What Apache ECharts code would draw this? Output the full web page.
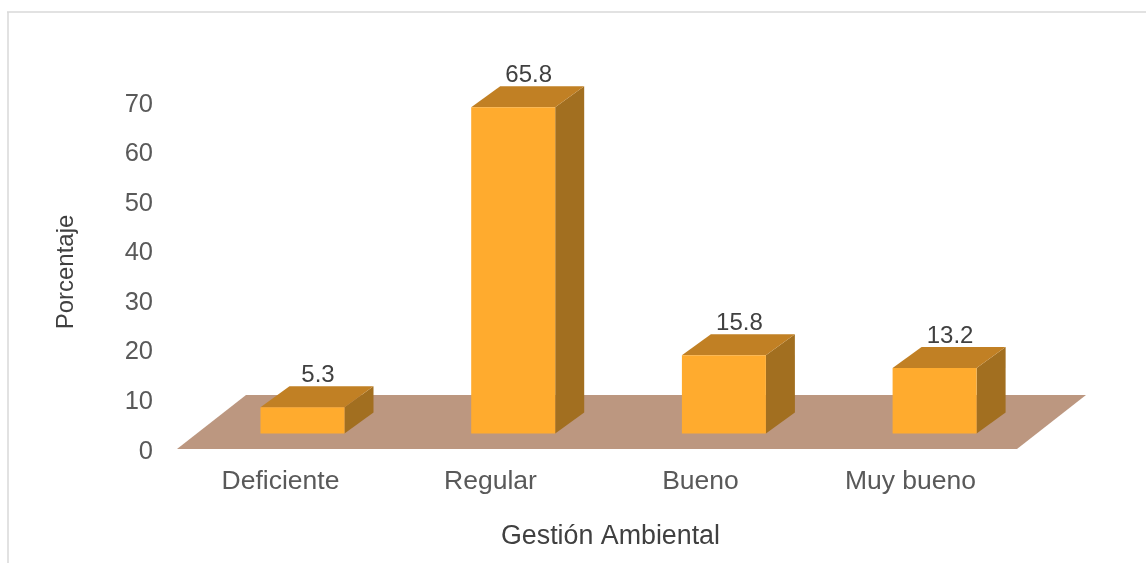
<!DOCTYPE html>
<html>
<head>
<meta charset="utf-8">
<style>html,body{margin:0;padding:0;background:#fff}#c{width:1146px;height:563px}</style>
<script src="https://cdn.jsdelivr.net/npm/echarts@6/dist/echarts.min.js"></script>
</head>
<body>
<div id="c"></div>
<script>
var categories = ['Deficiente', 'Regular', 'Bueno', 'Muy bueno'];
var porcentaje = [5.3, 65.8, 15.8, 13.2];
var yTicks = [0, 10, 20, 30, 40, 50, 60, 70];

var FONT = '"Liberation Sans", Arial, sans-serif';
var FRONT = '#FFAB2E', TOP = '#C18024', SIDE = '#A26F20', FLOOR = '#BC9780';
var DEPTH_X = 29, DEPTH_Y = 21, SHIFT_X = 20.5, SHIFT_Y = 15.5, SPREAD = 0.7, FLOOR_X = 69, FLOOR_Y = 54;

function renderBar(params, api) {
  var p = api.coord([api.value(0), api.value(1)]);
  var b = api.coord([api.value(0), 0]);
  var w = api.size([1, 0])[0] * 0.4;
  var x0 = p[0] - w / 2 + SHIFT_X + api.value(0) * SPREAD, x1 = x0 + w;
  var yt = p[1] - SHIFT_Y, yb = b[1] - SHIFT_Y;
  return {
    type: 'group',
    children: [
      { type: 'polygon', shape: { points: [[x1, yt], [x1 + DEPTH_X, yt - DEPTH_Y], [x1 + DEPTH_X, yb - DEPTH_Y], [x1, yb]] }, style: { fill: SIDE } },
      { type: 'polygon', shape: { points: [[x0, yt], [x0 + DEPTH_X, yt - DEPTH_Y], [x1 + DEPTH_X, yt - DEPTH_Y], [x1, yt]] }, style: { fill: TOP } },
      { type: 'rect', shape: { x: x0, y: yt, width: w, height: yb - yt }, style: { fill: FRONT } },
      { type: 'text', x: (x0 + x1 + DEPTH_X) / 2 + 1, y: yt - DEPTH_Y + 1.5,
        style: { text: String(api.value(1)), fill: '#404040', font: '24px ' + FONT, align: 'center', verticalAlign: 'bottom' } }
    ]
  };
}

function renderFloor(params, api) {
  var c = params.coordSys;
  var yf = c.y + c.height;
  return {
    type: 'polygon',
    shape: { points: [[c.x, yf], [c.x + c.width, yf], [c.x + c.width + FLOOR_X, yf - FLOOR_Y], [c.x + FLOOR_X, yf - FLOOR_Y]] },
    style: { fill: FLOOR }
  };
}

var chart = echarts.init(document.getElementById('c'), null, { renderer: 'canvas' });
chart.setOption({
  animation: false,
  backgroundColor: '#fff',
  graphic: [
    { type: 'line', silent: true, shape: { x1: 8, y1: 12, x2: 8, y2: 563 }, style: { stroke: '#D9D9D9', lineWidth: 1.5 } },
    { type: 'line', silent: true, shape: { x1: 7, y1: 12, x2: 1146, y2: 12 }, style: { stroke: '#D9D9D9', lineWidth: 1.5 } }
  ],
  grid: { left: 177, top: 102, width: 840, height: 347, outerBoundsMode: 'none' },
  xAxis: {
    type: 'category',
    data: categories,
    axisLine: { show: false },
    axisTick: { show: false },
    axisLabel: { color: '#595959', fontFamily: FONT, fontSize: 26.5, margin: 19, padding: [0, 3, 0, 0] },
    name: 'Gestión Ambiental',
    nameLocation: 'middle',
    nameGap: 74,
    nameTextStyle: { color: '#404040', fontFamily: FONT, fontSize: 26.8, padding: [0, 0, 0, 27] }
  },
  yAxis: {
    type: 'value',
    min: 0,
    max: yTicks[yTicks.length - 1],
    interval: yTicks[1] - yTicks[0],
    splitLine: { show: false },
    axisLine: { show: false },
    axisTick: { show: false },
    axisLabel: {
      margin: 24,
      formatter: '{v|{value}}',
      rich: { v: { color: '#595959', fontFamily: FONT, fontSize: 25.5, padding: [5, 0, 0, 0] } }
    },
    name: 'Porcentaje',
    nameLocation: 'middle',
    nameGap: 99,
    nameTextStyle: { color: '#404040', fontFamily: FONT, fontSize: 24, padding: [0, 0, 0, 7] }
  },
  series: [
    { type: 'custom', silent: true, clip: false, z: 1, renderItem: renderFloor, data: [[0, 0]] },
    { type: 'custom', silent: true, clip: false, z: 2, renderItem: renderBar,
      encode: { x: 0, y: 1 },
      data: porcentaje.map(function (v, i) { return [i, v]; }) }
  ]
});
</script>
</body>
</html>
